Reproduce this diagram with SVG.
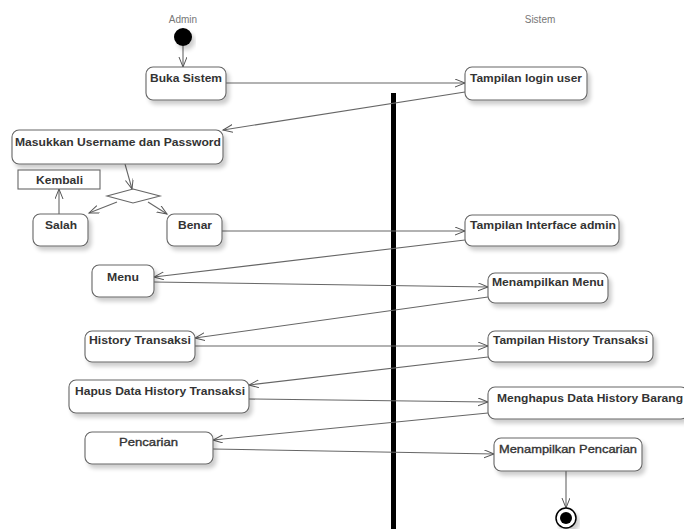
<svg xmlns="http://www.w3.org/2000/svg" width="684" height="529" viewBox="0 0 684 529">
  <defs>
    <filter id="shadow" x="-10%" y="-20%" width="130%" height="160%">
      <feGaussianBlur in="SourceAlpha" stdDeviation="2"/>
      <feOffset dx="3" dy="4" result="b"/>
      <feComponentTransfer><feFuncA type="linear" slope="0.2"/></feComponentTransfer>
      <feMerge><feMergeNode/><feMergeNode in="SourceGraphic"/></feMerge>
    </filter>
    <marker id="arrow" markerUnits="userSpaceOnUse" markerWidth="12" markerHeight="10" refX="10" refY="4" orient="auto">
      <path d="M0,0 L10,4 L0,8" fill="none" stroke="#555" stroke-width="1"/>
    </marker>
  </defs>
  <style>
    .lane { font-family: "Liberation Sans", Arial, sans-serif; font-size: 10px; fill: #777; text-anchor: middle; }
    .box { fill: #fff; stroke: #666; stroke-width: 1.1; filter: url(#shadow); }
    .lbl { font-family: "Liberation Sans", Arial, sans-serif; font-size: 11.5px; font-weight: bold; fill: #333; }
    .lbl-n { font-family: "Liberation Sans", Arial, sans-serif; font-size: 11.5px; fill: #333; stroke: #333; stroke-width: 0.35; }
    .edge { fill: none; stroke: #666; stroke-width: 1.1; marker-end: url(#arrow); }
  </style>
  <rect width="684" height="529" fill="#fff"/>

  <!-- swimlane titles -->
  <text class="lane" x="183" y="23">Admin</text>
  <text class="lane" x="540" y="23">Sistem</text>

  <!-- lane divider -->
  <rect x="391" y="93" width="5" height="436" fill="#000"/>

  <g id="connectors">
    <path class="edge" d="M183,46 L183,67"/>
    <path class="edge" d="M226,83 L465,83"/>
    <path class="edge" d="M465,92 L223,130"/>
    <path class="edge" d="M125,164 L132,189"/>
    <path class="edge" d="M117,202 L89,213"/>
    <path class="edge" d="M148,202 L167,214"/>
    <path class="edge" d="M59,214 L59,189"/>
    <path class="edge" d="M222,231 L465,231"/>
    <path class="edge" d="M465,240 L154,277"/>
    <path class="edge" d="M154,282 L488,287"/>
    <path class="edge" d="M488,297 L195,338"/>
    <path class="edge" d="M195,346 L488,346"/>
    <path class="edge" d="M488,357 L249,385"/>
    <path class="edge" d="M249,399 L488,402"/>
    <path class="edge" d="M488,413 L213,440"/>
    <path class="edge" d="M213,449 L494,454"/>
    <path class="edge" d="M566,471 L566,508"/>
  </g>

  <g id="start">
    <circle cx="183" cy="37" r="9" fill="#000" filter="url(#shadow)"/>
  </g>

  <g id="buka-sistem">
    <rect class="box" x="146" y="67" width="80" height="33" rx="7"/>
    <text class="lbl" x="150" y="82" textLength="72" lengthAdjust="spacingAndGlyphs">Buka Sistem</text>
  </g>

  <g id="tampilan-login">
    <rect class="box" x="465" y="67" width="122" height="33" rx="7"/>
    <text class="lbl" x="470" y="82" textLength="112" lengthAdjust="spacingAndGlyphs">Tampilan login user</text>
  </g>

  <g id="masukkan">
    <rect class="box" x="12" y="130" width="211" height="34" rx="7"/>
    <text class="lbl" x="15" y="146" textLength="206" lengthAdjust="spacingAndGlyphs">Masukkan Username dan Password</text>
  </g>

  <g id="decision">
    <polygon points="133,189 160,196 133,203 107,196" fill="#fff" stroke="#666" stroke-width="1.1"/>
  </g>

  <g id="kembali">
    <rect x="18" y="170" width="82" height="19" fill="#fff" stroke="#666" stroke-width="1.1"/>
    <text class="lbl" x="36" y="184" textLength="47" lengthAdjust="spacingAndGlyphs">Kembali</text>
  </g>

  <g id="salah">
    <rect class="box" x="33" y="214" width="55" height="32" rx="7"/>
    <text class="lbl" x="45" y="229" textLength="32" lengthAdjust="spacingAndGlyphs">Salah</text>
  </g>

  <g id="benar">
    <rect class="box" x="167" y="214" width="55" height="32" rx="7"/>
    <text class="lbl" x="178" y="229" textLength="34" lengthAdjust="spacingAndGlyphs">Benar</text>
  </g>

  <g id="tampilan-interface">
    <rect class="box" x="465" y="215" width="154" height="31" rx="7"/>
    <text class="lbl" x="470" y="229" textLength="146" lengthAdjust="spacingAndGlyphs">Tampilan Interface admin</text>
  </g>

  <g id="menu">
    <rect class="box" x="92" y="265" width="62" height="32" rx="7"/>
    <text class="lbl" x="107" y="281" textLength="32" lengthAdjust="spacingAndGlyphs">Menu</text>
  </g>

  <g id="menampilkan-menu">
    <rect class="box" x="488" y="273" width="120" height="30" rx="7"/>
    <text class="lbl" x="492" y="286" textLength="112" lengthAdjust="spacingAndGlyphs">Menampilkan Menu</text>
  </g>

  <g id="history-transaksi">
    <rect class="box" x="85" y="331" width="110" height="31" rx="7"/>
    <text class="lbl" x="89" y="344" textLength="102" lengthAdjust="spacingAndGlyphs">History Transaksi</text>
  </g>

  <g id="tampilan-history">
    <rect class="box" x="488" y="331" width="165" height="31" rx="7"/>
    <text class="lbl" x="493" y="344" textLength="155" lengthAdjust="spacingAndGlyphs">Tampilan History Transaksi</text>
  </g>

  <g id="hapus-data">
    <rect class="box" x="69" y="380" width="180" height="33" rx="7"/>
    <text class="lbl" x="75" y="395" textLength="170" lengthAdjust="spacingAndGlyphs">Hapus Data History Transaksi</text>
  </g>

  <g id="menghapus-data">
    <rect class="box" x="488" y="387" width="200" height="32" rx="7"/>
    <text class="lbl" x="497" y="402" textLength="186" lengthAdjust="spacingAndGlyphs">Menghapus Data History Barang</text>
  </g>

  <g id="pencarian">
    <rect class="box" x="85" y="432" width="128" height="32" rx="7"/>
    <text class="lbl-n" x="119" y="446" textLength="59" lengthAdjust="spacingAndGlyphs">Pencarian</text>
  </g>

  <g id="menampilkan-pencarian">
    <rect class="box" x="494" y="438" width="148" height="33" rx="7"/>
    <text class="lbl-n" x="499" y="453" textLength="138" lengthAdjust="spacingAndGlyphs">Menampilkan Pencarian</text>
  </g>

  <g id="end">
    <circle cx="566" cy="518" r="10" fill="#fff" stroke="#000" stroke-width="1.5" filter="url(#shadow)"/>
    <circle cx="566" cy="518" r="6" fill="#000"/>
  </g>
</svg>
